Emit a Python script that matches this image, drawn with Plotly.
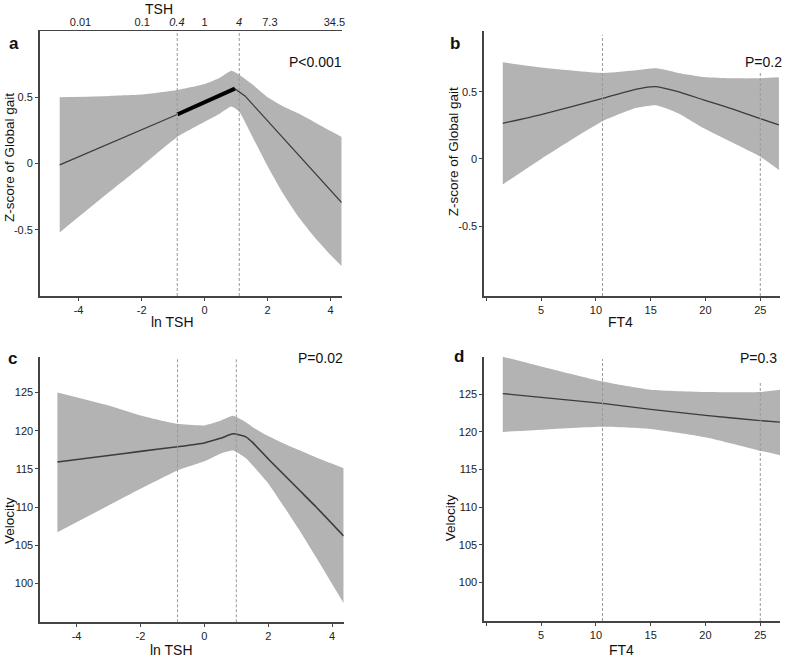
import plotly.graph_objects as go

# ---------------- data ----------------
# Panel a: Z-score of Global gait vs ln TSH
a_band_x = [-4.6, -3.0, -2.0, -0.87, 0.0, 0.5, 0.85, 1.1, 1.5, 2.0, 2.5, 3.0, 3.5, 4.0, 4.35]
a_upper = [0.50, 0.51, 0.52, 0.555, 0.60, 0.65, 0.70, 0.67, 0.60, 0.50, 0.43, 0.375, 0.31, 0.245, 0.20]
a_lower = [-0.52, -0.21, -0.02, 0.20, 0.315, 0.38, 0.43, 0.39, 0.21, -0.02, -0.23, -0.41, -0.56, -0.69, -0.775]
a_fit_x = [-4.6, -0.87, 0.96, 1.28, 4.35]
a_fit_y = [-0.01, 0.37, 0.565, 0.51, -0.295]
a_thick_x = [-0.87, 0.96]
a_thick_y = [0.37, 0.565]
a_vlines = [-0.87, 1.1]
lnx_ticks = [-4, -2, 0, 2, 4]
lnx_ticktext = ["-4", "-2", "0", "2", "4"]
a_yticks = [-0.5, 0, 0.5]
a_yticktext = ["-0.5", "0", "0.5"]
tsh_tickpos = [-3.94, -1.98, -0.88, 0.0, 1.09, 2.07, 4.12]
tsh_ticktext = ["0.01", "0.1", "<i>0.4</i>", "1", "<i>4</i>", "7.3", "34.5"]

# Panel b: Z-score of Global gait vs FT4
b_x = [1.5, 5.0, 10.6, 13.7, 15.5, 17.5, 19.8, 22.5, 25.0, 26.7]
b_fit = [0.265, 0.33, 0.45, 0.52, 0.538, 0.50, 0.44, 0.37, 0.30, 0.253]
b_upper = [0.72, 0.68, 0.64, 0.66, 0.674, 0.64, 0.61, 0.60, 0.60, 0.607]
b_lower = [-0.19, 0.0, 0.28, 0.38, 0.40, 0.34, 0.23, 0.12, 0.017, -0.082]
b_vlines = [10.6, 25.0]

# Panel c: Velocity vs ln TSH
c_x = [-4.6, -3.0, -2.0, -0.84, 0.0, 0.5, 0.9, 1.3, 1.5, 2.0, 2.5, 3.0, 3.5, 4.36]
c_fit = [115.9, 116.75, 117.3, 117.9, 118.4, 119.0, 119.6, 119.2, 118.5, 116.3, 114.2, 112.1, 110.0, 106.2]
c_upper = [125.0, 123.3, 122.0, 120.9, 120.7, 121.3, 121.95, 121.1, 120.5, 119.3, 118.3, 117.4, 116.5, 115.1]
c_lower = [106.7, 110.2, 112.4, 114.8, 116.0, 117.0, 117.4, 116.4, 115.5, 113.1, 110.0, 106.8, 103.4, 97.4]
c_vlines = [-0.84, 1.0]

# Panel d: Velocity vs FT4
d_x = [1.5, 5.0, 10.6, 15.0, 20.0, 25.0, 26.8]
d_fit = [125.1, 124.6, 123.8, 123.0, 122.2, 121.5, 121.3]
d_upper = [130.0, 128.7, 126.7, 125.6, 125.3, 125.3, 125.6]
d_lower = [120.0, 120.3, 120.7, 120.4, 119.3, 117.5, 116.9]
d_vlines = [10.6, 25.0]

ft4_xticks = [0, 5, 10, 15, 20, 25]
ft4_xticktext = ["", "5", "10", "15", "20", "25"]
vel_yticks = [100, 105, 110, 115, 120, 125]

# ---------------- styling / layout ----------------
W, H = 787, 658
BAND = "#b3b3b3"
LINE = "#3c3c3c"
AXIS = "#444444"
DASH = "#9a9a9a"
TICKFONT = dict(family="Liberation Sans Narrow, Arial Narrow, Liberation Sans, Arial, sans-serif",
                size=11, color="#222222")
TEXTFONT = "Liberation Sans, Arial, sans-serif"


def fx(p):
    return p / W


def fy(p):
    return 1 - p / H


fig = go.Figure()


def add_panel(xs, up, lo, fitx, fity, xa, ya, fit_shape, fit_width=1.3, sm=0.5):
    fig.add_trace(go.Scatter(x=xs, y=lo, mode="lines",
                             line=dict(width=0, shape="spline", smoothing=sm, color=BAND),
                             xaxis=xa, yaxis=ya, showlegend=False, hoverinfo="skip"))
    fig.add_trace(go.Scatter(x=xs, y=up, mode="lines",
                             line=dict(width=0, shape="spline", smoothing=sm, color=BAND),
                             fill="tonexty", fillcolor=BAND,
                             xaxis=xa, yaxis=ya, showlegend=False, hoverinfo="skip"))
    line = dict(color=LINE, width=fit_width, shape=fit_shape)
    if fit_shape == "spline":
        line["smoothing"] = 0.5
    fig.add_trace(go.Scatter(x=fitx, y=fity, mode="lines", line=line,
                             xaxis=xa, yaxis=ya, showlegend=False))


add_panel(a_band_x, a_upper, a_lower, a_fit_x, a_fit_y, "x", "y", "linear")
fig.add_trace(go.Scatter(x=a_thick_x, y=a_thick_y, mode="lines",
                         line=dict(color="black", width=4), xaxis="x", yaxis="y",
                         showlegend=False))
# invisible trace to create the top TSH axis of panel a
fig.add_trace(go.Scatter(x=[a_fit_x[0]], y=[a_fit_y[0]], mode="markers",
                         marker=dict(opacity=0), xaxis="x5", yaxis="y",
                         showlegend=False, hoverinfo="skip"))
add_panel(b_x, b_upper, b_lower, b_x, b_fit, "x2", "y2", "spline")
add_panel(c_x, c_upper, c_lower, c_x, c_fit, "x3", "y3", "spline", 1.6)
add_panel(d_x, d_upper, d_lower, d_x, d_fit, "x4", "y4", "spline")

ax_common = dict(showline=True, linecolor=AXIS, linewidth=1.5, ticks="outside",
                 ticklen=3, tickcolor=AXIS, tickwidth=1, showgrid=False, zeroline=False,
                 tickfont=TICKFONT)

a_xr = [-5.23, 4.35]
a_yr = [-1.0, 1.0]
b_xr = [-0.2, 26.8]
b_yr = [-1.02, 0.952]
c_xr = [-5.14, 4.36]
c_yr = [94.9, 129.7]
d_xr = [-0.2, 26.8]
d_yr = [94.85, 130.0]

fig.update_layout(
    width=W, height=H, margin=dict(l=0, r=0, t=0, b=0),
    paper_bgcolor="white", plot_bgcolor="white", showlegend=False,
    xaxis=dict(domain=[fx(40), fx(343)], range=a_xr, anchor="y",
               tickvals=lnx_ticks, ticktext=lnx_ticktext, **ax_common),
    yaxis=dict(domain=[fy(296), fy(31)], range=a_yr, anchor="x",
               tickvals=a_yticks, ticktext=a_yticktext, **ax_common),
    xaxis5=dict(overlaying="x", side="top", anchor="y", range=a_xr,
                showline=True, linecolor=AXIS, linewidth=1.2, ticks="",
                tickvals=tsh_tickpos, ticktext=tsh_ticktext, showgrid=False,
                zeroline=False, tickfont=TICKFONT),
    xaxis2=dict(domain=[fx(486), fx(783)], range=b_xr, anchor="y2",
                tickvals=ft4_xticks, ticktext=ft4_xticktext, **ax_common),
    yaxis2=dict(domain=[fy(296), fy(31)], range=b_yr, anchor="x2",
                tickvals=a_yticks, ticktext=a_yticktext, **ax_common),
    xaxis3=dict(domain=[fx(40.3), fx(345)], range=c_xr, anchor="y3",
                tickvals=lnx_ticks, ticktext=lnx_ticktext, **ax_common),
    yaxis3=dict(domain=[fy(622.3), fy(356.7)], range=c_yr, anchor="x3",
                tickvals=vel_yticks, **ax_common),
    xaxis4=dict(domain=[fx(486), fx(783)], range=d_xr, anchor="y4",
                tickvals=ft4_xticks, ticktext=ft4_xticktext, **ax_common),
    yaxis4=dict(domain=[fy(621), fy(356.7)], range=d_yr, anchor="x4",
                tickvals=vel_yticks, **ax_common),
)

# dashed reference lines
shapes = []


def vline(x, xref, yref, y0, y1):
    shapes.append(dict(type="line", xref=xref, yref=yref, x0=x, x1=x, y0=y0, y1=y1,
                       line=dict(color=DASH, width=1, dash="3px,2px")))


for v in a_vlines:
    vline(v, "x", "y", a_yr[0], a_yr[1])
vline(b_vlines[0], "x2", "y2", b_yr[0], 0.92)
vline(b_vlines[1], "x2", "y2", b_yr[0], 0.65)
for v in c_vlines:
    vline(v, "x3", "y3", c_yr[0], 129.5)
vline(d_vlines[0], "x4", "y4", d_yr[0], 129.7)
vline(d_vlines[1], "x4", "y4", d_yr[0], 126.7)
fig.update_layout(shapes=shapes)

ann = []


def text(t, x, y, size=13, bold=False, angle=0):
    ann.append(dict(text=f"<b>{t}</b>" if bold else t, x=fx(x), y=fy(y),
                    xref="paper", yref="paper", showarrow=False, textangle=angle,
                    xanchor="center", yanchor="middle",
                    font=dict(family=TEXTFONT, size=size, color="#111111")))


text("a", 14.5, 43, 17, True)
text("b", 457, 43, 17, True)
text("c", 12.7, 358, 17, True)
text("d", 460.7, 357, 17, True)
text("P&lt;0.001", 317, 62, 14)
text("P=0.2", 766, 62, 14)
text("P=0.02", 322, 358, 14)
text("P=0.3", 761, 358, 14)
text("TSH", 160, 9, 14)
text("ln TSH", 173, 322, 14)
text("ln TSH", 172, 650, 14)
text("FT4", 623, 322, 14)
text("FT4", 624, 650, 14)
text("Z-score of Global gait", 9, 157, 13.5, angle=-90)
text("Z-score of Global gait", 455, 152, 13.5, angle=-90)
text("Velocity", 9, 520, 13.5, angle=-90)
text("Velocity", 452, 518, 13.5, angle=-90)
fig.update_layout(annotations=ann)

fig.write_html("out.html", config={"displayModeBar": False},
               post_script="document.body.style.margin='0';document.body.style.overflow='hidden';")
